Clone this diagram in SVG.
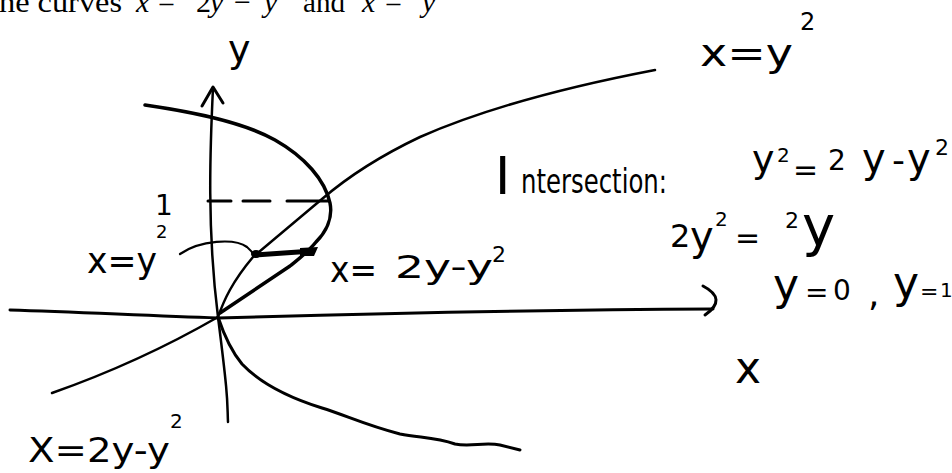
<svg xmlns="http://www.w3.org/2000/svg" width="952" height="473" viewBox="0 0 952 473">
<style>
.t{font-family:"Liberation Serif",serif;font-size:30px;fill:#000}
.i{font-style:italic}
.hw{font-family:"DejaVu Sans","Liberation Sans",sans-serif;fill:#000}
.ln{fill:none;stroke:#000;stroke-linecap:round;stroke-linejoin:round}
</style>
<rect width="952" height="473" fill="#fff"/>
<g id="title">
<text class="t" x="-1" y="12" textLength="123" lengthAdjust="spacingAndGlyphs">he curves</text>
<text class="t i" x="136" y="12">x</text>
<text class="t" x="158" y="12">=</text>
<text class="t" x="196" y="12">2</text>
<text class="t i" x="210" y="12">y</text>
<text class="t" x="234" y="12">−</text>
<text class="t i" x="264" y="12">y</text>
<text class="t" x="303" y="12" textLength="42" lengthAdjust="spacingAndGlyphs">and</text>
<text class="t i" x="362" y="12">x</text>
<text class="t" x="385" y="12">=</text>
<text class="t i" x="422" y="12">y</text>
</g>
<g id="axes">
<path class="ln" stroke-width="2.5" d="M213,88 C210,150 207,230 218,317 S227,400 228,422"/>
<path class="ln" stroke-width="3" d="M202,106 L213,87 L223,103"/>
<path class="ln" stroke-width="3" d="M10,310 C80,312 150,316 218,318 C320,315 500,310 713,309"/>
<path class="ln" stroke-width="3" d="M703,286 Q728,299 705,315"/>
<path class="ln" stroke-width="3" d="M208,201 H231 M243,201 H270 M287,201 H328"/>
</g>
<g id="curves">
<path id="parabola-x-y2" class="ln" stroke-width="2.5" d="M52,393 Q140,362 218,317 C224,300 232,282 253,257 L322,199 C350,175 380,156 420,137 C470,115 540,92 655,70"/>
<path id="parabola-2y-y2" class="ln" stroke-width="3.5" d="M145,105 C200,113 245,123 275,140 C305,157 325,180 330,203 C333,218 326,232 316,242 C308,252 300,258 290,266 L220,313"/>
<path id="lower-curve" class="ln" stroke-width="3" d="M218,317 C224,335 232,352 242,364 C262,385 290,398 322,408 C345,415 365,425 400,434 C420,438 435,437 455,444 C470,447 485,442 500,445 L520,450"/>
<path id="leader" class="ln" stroke-width="2.2" d="M180,254 C200,240 235,238 247,247 Q252,251 254,256"/>
<path id="strip" class="ln" stroke-width="5" d="M255,255 L313,251"/>
<ellipse cx="256" cy="254" rx="5" ry="4" fill="#000"/>
<path d="M300,248 L318,247 L314,256 L300,256 Z" fill="#000"/>
</g>
<g id="labels">
<text class="hw" x="228" y="62" font-size="38">y</text>
<text class="hw" x="700" y="66" font-size="38" textLength="93" lengthAdjust="spacingAndGlyphs">x=y</text>
<text class="hw" x="800" y="30" font-size="24">2</text>
<text class="hw" x="155" y="215" font-size="28">1</text>
<text class="hw" x="87" y="273" font-size="36" textLength="70" lengthAdjust="spacingAndGlyphs">x=y</text>
<text class="hw" x="156" y="238" font-size="18">2</text>
<text class="hw" x="330" y="282" font-size="36" textLength="47" lengthAdjust="spacingAndGlyphs">x=</text>
<text class="hw" x="395" y="278" font-size="32" textLength="98" lengthAdjust="spacingAndGlyphs">2y-y</text>
<text class="hw" x="492" y="262" font-size="22">2</text>
<text class="hw" x="28" y="462" font-size="34" textLength="142" lengthAdjust="spacingAndGlyphs">X=2y-y</text>
<text class="hw" x="170" y="428" font-size="20">2</text>
<text class="hw" x="495" y="194" font-size="52">I</text>
<text class="hw" x="521" y="193" font-size="34" textLength="146" lengthAdjust="spacingAndGlyphs">ntersection:</text>
<text class="hw" x="752" y="172" font-size="38">y</text>
<text class="hw" x="777" y="162" font-size="20">2</text>
<text class="hw" x="793" y="180" font-size="30">=</text>
<text class="hw" x="828" y="170" font-size="28">2</text>
<text class="hw" x="862" y="172" font-size="40">y</text>
<text class="hw" x="892" y="172" font-size="36">-</text>
<text class="hw" x="907" y="172" font-size="40">y</text>
<text class="hw" x="935" y="155" font-size="22">2</text>
<text class="hw" x="670" y="247" font-size="32">2</text>
<text class="hw" x="690" y="250" font-size="40">y</text>
<text class="hw" x="715" y="226" font-size="20">2</text>
<text class="hw" x="735" y="248" font-size="30">=</text>
<text class="hw" x="785" y="228" font-size="22">2</text>
<text class="hw" x="802" y="245" font-size="56">y</text>
<text class="hw" x="773" y="300" font-size="44">y</text>
<text class="hw" x="805" y="302" font-size="28">=</text>
<text class="hw" x="833" y="300" font-size="28">0</text>
<text class="hw" x="868" y="306" font-size="36">,</text>
<text class="hw" x="893" y="298" font-size="44">y</text>
<text class="hw" x="920" y="299" font-size="22">=</text>
<text class="hw" x="940" y="297" font-size="20">1</text>
<text class="hw" x="735" y="383" font-size="44">x</text>
</g>
</svg>
